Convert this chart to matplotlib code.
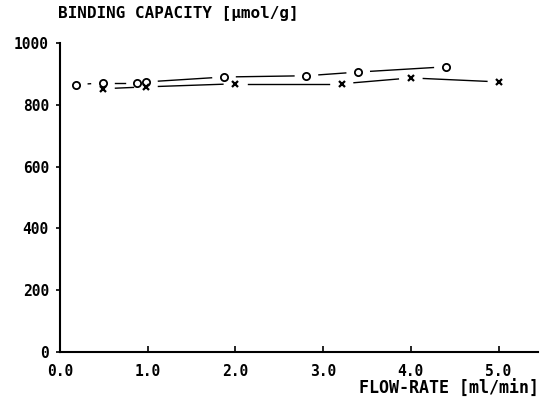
import numpy as np
import matplotlib
matplotlib.use("Agg")
import matplotlib.pyplot as plt

# ---- data ----
circle_x = [0.18, 0.49, 0.88, 0.98, 1.87, 2.81, 3.40, 4.40]
circle_y = [865, 871, 871, 874, 890, 894, 906, 923]
cross_x = [0.49, 0.98, 2.00, 3.21, 4.00, 5.01]
cross_y = [852, 858, 868, 868, 887, 874]
xticks = [0.0, 1.0, 2.0, 3.0, 4.0, 5.0]
xtick_labels = ["0.0", "1.0", "2.0", "3.0", "4.0", "5.0"]
yticks = [0, 200, 400, 600, 800, 1000]
ytick_labels = ["0", "200", "400", "600", "800", "1000"]
xlabel = "FLOW-RATE [ml/min]"
ylabel = "BINDING CAPACITY [\u00b5mol/g]"

W, H, DPI = 540, 399, 100
plt.rcParams['font.family'] = ['DejaVu Sans Mono', 'DejaVu Sans']
plt.rcParams['font.weight'] = 'bold'

fig = plt.figure(figsize=(W / DPI, H / DPI), dpi=DPI)
# axes placed in pixel terms of the reference
left_px, right_px, top_px, bottom_px = 60, 538, 43, 352
ax = fig.add_axes([left_px / W, (H - bottom_px) / H,
                   (right_px - left_px) / W, (bottom_px - top_px) / H])
ax.set_xlim(0, 5.45)
ax.set_ylim(0, 1000)

for s in ("top", "right"):
    ax.spines[s].set_visible(False)
for s in ("left", "bottom"):
    ax.spines[s].set_linewidth(1.5)
    ax.spines[s].set_color("black")

ax.set_xticks(xticks)
ax.set_xticklabels(xtick_labels)
ax.set_yticks(yticks)
ax.set_yticklabels(ytick_labels)
ax.tick_params(axis="x", direction="in", length=4, width=1.2, pad=9, labelsize=10.5)
ax.tick_params(axis="y", direction="out", length=3, width=1.2, pad=5, labelsize=10.5)
for t in ax.get_xticklabels() + ax.get_yticklabels():
    t.set_fontweight("bold")

ax.set_ylabel(ylabel, rotation=0, ha="left", va="center", fontsize=11.5, fontweight="bold")
ax.yaxis.set_label_coords(-0.004, 1.094)
ax.set_xlabel(xlabel, ha="right", va="center", fontsize=12, fontweight="bold")
ax.xaxis.set_label_coords(1.003, -0.12)


def gapped_line(xs, ys, gap_px=12.5, **kw):
    """Connect points with straight segments that stop short of each marker."""
    pts = ax.transData.transform(np.column_stack([xs, ys]))
    inv = ax.transData.inverted()
    for p0, p1 in zip(pts[:-1], pts[1:]):
        d = p1 - p0
        L = np.hypot(*d)
        if L <= 2 * gap_px:
            continue
        u = d / L
        a = inv.transform(p0 + u * gap_px)
        b = inv.transform(p1 - u * gap_px)
        ax.plot([a[0], b[0]], [a[1], b[1]], **kw)


gapped_line(circle_x, circle_y, color="black", lw=1.0)
gapped_line(cross_x, cross_y, color="black", lw=1.0)

ax.plot(circle_x, circle_y, linestyle="none", marker="o", markersize=5.2,
        markerfacecolor="none", markeredgecolor="black", markeredgewidth=1.3)
ax.plot(cross_x, cross_y, linestyle="none", marker="x", markersize=4.6,
        markeredgecolor="black", markeredgewidth=1.6)

fig.savefig("out.png", dpi=DPI, facecolor="white")
